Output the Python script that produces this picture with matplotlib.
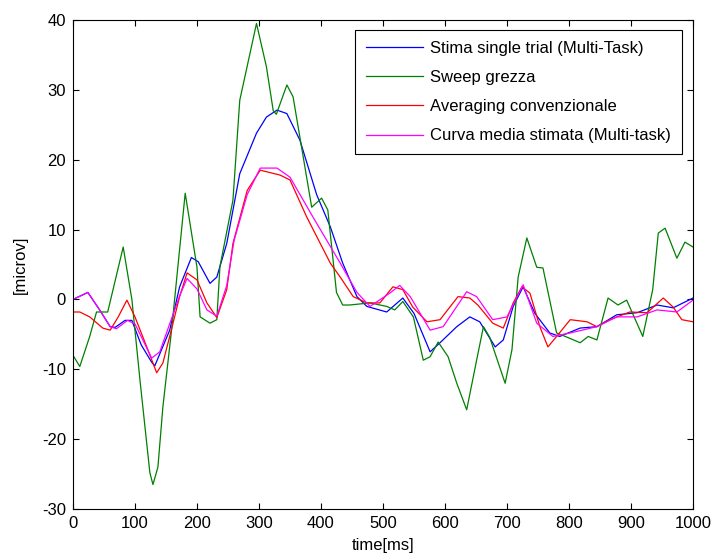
import numpy as np
import matplotlib
matplotlib.use("Agg")
import matplotlib.pyplot as plt

# valori (tempo in ms, ampiezza in microV)
t_green = [0, 11, 27, 38, 56, 81, 95, 108, 124, 129, 137, 145, 159, 181, 200, 205, 221, 232,
           237, 258, 269, 296, 312, 323, 328, 345, 355, 385, 401, 411, 425, 435, 446, 479,
           506, 519, 532, 549, 565, 576, 589, 605, 619, 635, 651, 662, 672, 686, 697, 708,
           718, 732, 748, 758, 780, 794, 818, 831, 845, 863, 879, 893, 919, 935, 944, 955,
           974, 987, 1000]
y_green = [-8, -9.6, -5.3, -1.8, -1.8, 7.5, 0, -11.5, -24.8, -26.5, -24, -15.4, -4.4, 15.2,
           4.6, -2.5, -3.4, -2.9, 4.7, 14.2, 28.5, 39.5, 33.3, 27, 26.5, 30.7, 29, 13.2, 14.5,
           12.8, 1, -0.8, -0.8, -0.5, -1, -1.5, -0.3, -2.5, -8.7, -8.2, -6.1, -8.2, -12,
           -15.8, -8.7, -3.9, -5.4, -9.1, -12, -7.2, 3.2, 8.8, 4.6, 4.5, -4.8, -5.3, -6.2,
           -5.3, -5.8, 0.2, -0.8, -0.1, -5.3, 1.4, 9.5, 10.2, 5.9, 8.2, 7.5]

t_blue = [0, 24, 43, 60, 68, 84, 95, 110, 127, 132, 156, 172, 191, 202, 221, 232, 248, 269,
          296, 312, 329, 345, 366, 393, 415, 435, 458, 474, 506, 532, 550, 576, 592, 619,
          640, 656, 681, 694, 710, 726, 745, 769, 785, 818, 845, 877, 910, 942, 968, 1000]
y_blue = [0, 1, -1.5, -3.9, -4, -3, -3, -6.5, -9, -9.5, -4.4, 1.8, 6, 5.4, 2.3, 3.2, 8, 18,
          23.8, 26.1, 27.1, 26.6, 22.8, 15, 10.4, 5.2, 0.4, -1, -1.8, 0.2, -2, -7.5, -6.2,
          -3.9, -2.5, -3.2, -6.8, -5.8, -1, 1.8, -2, -4.8, -5.3, -4.1, -3.9, -2.2, -1.9,
          -0.8, -1.2, 0.2]

t_red = [0, 11, 27, 48, 60, 73, 87, 100, 119, 135, 145, 156, 172, 184, 200, 216, 232, 248,
         258, 281, 302, 334, 350, 377, 415, 431, 452, 474, 495, 516, 532, 548, 571, 592,
         621, 640, 653, 677, 694, 710, 724, 737, 753, 766, 780, 802, 829, 845, 866, 898,
         926, 952, 968, 982, 1000]
y_red = [-1.8, -1.8, -2.5, -4.1, -4.4, -2.5, -0.1, -2.5, -6.8, -10.5, -9.1, -5.3, 0.4, 3.8,
         2.8, -0.5, -2.6, 1.4, 8, 15.6, 18.5, 17.8, 17.1, 11.8, 5.2, 3.2, 0.4, -0.5, -0.5,
         1.8, 1.4, -1.1, -3.2, -2.9, 0.4, 0.2, -0.8, -3.4, -4.1, -0.5, 1.8, 0.9, -3.9, -6.8,
         -5.3, -2.9, -3.2, -3.9, -2.9, -1.8, -1.9, 0.2, -1.1, -2.9, -3.2]

t_mag = [0, 24, 43, 60, 70, 88, 100, 127, 140, 156, 172, 184, 200, 216, 232, 248, 260, 281,
         302, 329, 350, 387, 431, 458, 479, 511, 527, 544, 576, 597, 635, 651, 677, 700,
         726, 748, 774, 802, 845, 877, 910, 942, 974, 1000]
y_mag = [0, 1, -1.5, -3.9, -4.2, -3, -3.5, -8.4, -7.5, -3.5, 0.5, 3, 1.5, -1.5, -2.4, 2, 8.5,
         15, 18.8, 18.8, 17.5, 11.8, 5.2, 1, -1, 0.9, 2, 0.4, -4.4, -3.9, 1.1, 0.4, -2.9,
         -2.5, 2.1, -3.4, -5.3, -4.8, -3.9, -2.5, -2.5, -1.5, -1.8, -0.1]

etichette = ["Stima single trial (Multi-Task)", "Sweep grezza",
             "Averaging convenzionale", "Curva media stimata (Multi-task)"]

plt.rcParams['font.family'] = ['Liberation Sans', 'DejaVu Sans']
plt.rcParams['axes.unicode_minus'] = False

fig = plt.figure(figsize=(7.14, 5.58), dpi=100)
ax = fig.add_axes([0.1022, 0.0878, 0.8684, 0.8764])

ax.plot(t_blue, y_blue, color=(0, 0, 1), lw=0.9, label=etichette[0])
ax.plot(t_green, y_green, color=(0, 0.5, 0), lw=0.9, label=etichette[1])
ax.plot(t_red, y_red, color=(1, 0, 0), lw=0.9, label=etichette[2])
ax.plot(t_mag, y_mag, color=(1, 0, 1), lw=0.9, label=etichette[3])

ax.set_xlim(0, 1000)
ax.set_ylim(-30, 40)
ax.set_xticks(np.arange(0, 1001, 100))
ax.set_yticks(np.arange(-30, 41, 10))
ax.tick_params(direction='in', length=4, width=0.8, top=True, right=True,
               labelsize=12)
ax.tick_params(axis='x', pad=5)
ax.tick_params(axis='y', pad=5)
for s in ax.spines.values():
    s.set_linewidth(0.8)

ax.set_xlabel("time[ms]", fontsize=12, labelpad=5)
ax.set_ylabel("[microv]", fontsize=12, labelpad=10)

leg = ax.legend(loc='upper right', bbox_to_anchor=(0.955, 0.946),
                bbox_transform=fig.transFigure, borderaxespad=0, fontsize=12,
                fancybox=False, framealpha=1, edgecolor='black',
                handlelength=3.4, handletextpad=0.45, labelspacing=0.85,
                borderpad=0.65)
leg.get_frame().set_linewidth(0.8)

fig.savefig("out.png", dpi=100)
